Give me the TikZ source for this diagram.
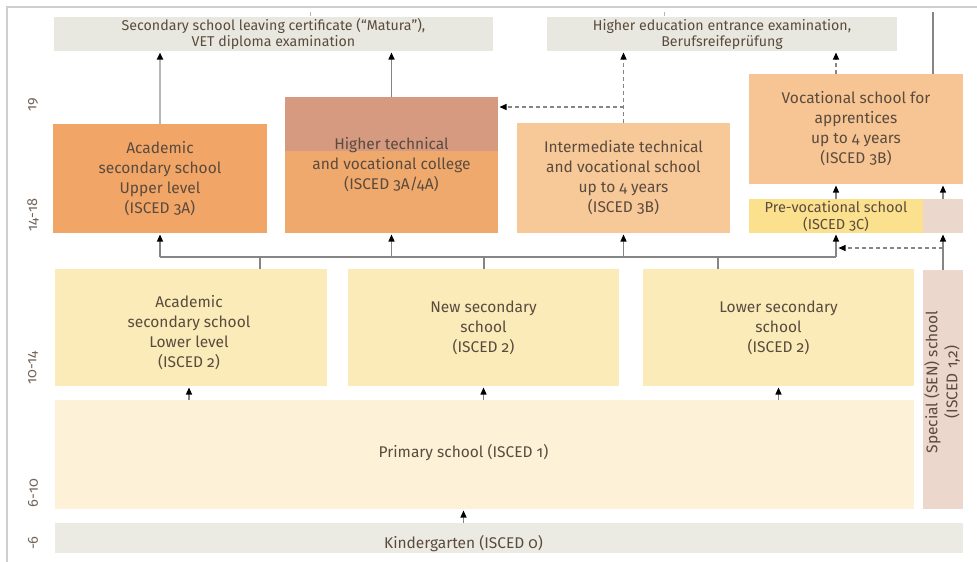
\documentclass[tikz,border=0pt]{standalone}
\usepackage{fontspec}
\setmainfont{Fira Sans}[Numbers=OldStyle]
\usetikzlibrary{arrows.meta}
\definecolor{txt}{HTML}{5A4B3E}
\definecolor{topc}{HTML}{E9E8E0}
\definecolor{acadc}{HTML}{F1A567}
\definecolor{htlow}{HTML}{F0A96C}
\definecolor{htup}{HTML}{D59A7F}
\definecolor{interc}{HTML}{F7C898}
\definecolor{vocc}{HTML}{F7C593}
\definecolor{prevc}{HTML}{FBE08E}
\definecolor{specc}{HTML}{EBD7CC}
\definecolor{lowc}{HTML}{FBEBB9}
\definecolor{primc}{HTML}{FDF2D7}
\definecolor{kindc}{HTML}{ECEBE3}
\definecolor{linec}{HTML}{858585}
\definecolor{framec}{HTML}{CFCFCF}
\begin{document}
\begin{tikzpicture}[x=1pt,y=-1pt,
  box/.style={inner sep=0pt, outer sep=0pt, align=center, text=txt, font=\fontsize{15.5}{20}\selectfont},
  topbox/.style={box, fill=topc, font=\fontsize{14.2}{16}\selectfont},
  age/.style={rotate=90, text=txt!85, font=\fontsize{14.5}{16}\selectfont, inner sep=0pt},
  conn/.style={draw=linec, line width=1.2pt},
  arr/.style={conn, shorten >=1.5pt, -{Triangle[length=7pt,width=6pt,black]}},
  darr/.style={arr, dashed, dash pattern=on 4pt off 3pt},
]
\useasboundingbox (0,0) rectangle (977,562);
% frame
\draw[framec, line width=1.5pt] (7,562) -- (7,7) -- (977,7);

% top boxes
\node[topbox, minimum width=439pt, minimum height=34pt] (top1) at (273.5,34)
  {Secondary school leaving certificate (“Matura”),\\VET diploma examination};
\node[topbox, minimum width=350pt, minimum height=34pt] (top2) at (722,34)
  {Higher education entrance examination,\\Berufsreifeprüfung};

% upper secondary
\node[box, fill=acadc, minimum width=214pt, minimum height=109pt] (acadup) at (160,178.5)
  {Academic\\secondary school\\Upper level\\(ISCED 3A)};
\node[box, fill=htlow, minimum width=213pt, minimum height=136pt,
  path picture={\fill[htup] (path picture bounding box.north west) rectangle ([yshift=-54pt]path picture bounding box.north east);}]
  (ht) at (391.5,165) {Higher technical\\and vocational college\\(ISCED 3A/4A)};
\node[box, fill=interc, minimum width=213pt, minimum height=110pt] (inter) at (623.5,178)
  {Intermediate technical\\and vocational school\\up to 4 years\\(ISCED 3B)};
\node[box, fill=vocc, minimum width=214pt, minimum height=110pt] (voc) at (856,129)
  {Vocational school for\\apprentices\\up to 4 years\\(ISCED 3B)};
\node[box, fill=prevc, minimum width=174pt, minimum height=34pt, font=\fontsize{14.5}{17}\selectfont] (prevoc) at (836,216)
  {Pre-vocational school\\(ISCED 3C)};
\node[box, fill=specc, minimum width=40pt, minimum height=34pt] (specup) at (943,216) {};

% lower secondary
\node[box, fill=lowc, minimum width=272pt, minimum height=117pt] (acadlow) at (191,327.5) {};
\node[box] (acadlowt) at (189,333) {Academic\\secondary school\\Lower level\\(ISCED 2)};
\node[box, fill=lowc, minimum width=271pt, minimum height=117pt] (newsec) at (483.5,327.5)
  {New secondary\\school\\(ISCED 2)};
\node[box, fill=lowc, minimum width=271pt, minimum height=117pt] (lowsec) at (778.5,327.5)
  {Lower secondary\\school\\(ISCED 2)};
\node[box, fill=specc, minimum width=40pt, minimum height=239pt] (spec) at (943,389.5) {};
\node[box, rotate=90] (spect) at (942,382) {Special (SEN) school\\(ISCED 1,2)};

% primary, kindergarten
\node[box, fill=primc, minimum width=859pt, minimum height=109pt] (prim) at (484.5,454.5) {};
\node[box] (primt) at (463.5,453) {Primary school (ISCED 1)};
\node[box, fill=kindc, minimum width=908pt, minimum height=30pt] (kind) at (509,538) {};
\node[box] (kindt) at (463.5,544) {Kindergarten (ISCED 0)};

% age labels
\node[age] (a19) at (33,105) {19};
\node[age] (a1418) at (33,215) {14-18};
\node[age] (a1014) at (33,368) {10-14};
\node[age] (a610) at (33,493) {6-10};
\node[age] (a6) at (33,543) {-6};

% top connectors
\draw[arr, draw=linec!60, line width=2pt] (acadup.north) -- (acadup.north |- top1.south);
\draw[arr, line width=1.5pt] (ht.north) -- (ht.north |- top1.south);
\draw[darr] (inter.north) -- (inter.north |- top2.south);
\coordinate (br) at (623.5,107);
\draw[darr] (br) -- (br -| ht.east);
\draw[darr] (prevoc.north |- voc.north) -- (prevoc.north |- top2.south);
\coordinate (trc) at (933,12);
\draw[conn] (trc) -- (trc |- voc.north);
\coordinate (tk1) at (310,12);
\coordinate (tk2) at (664,12);
\draw[conn, draw=linec!60, line width=1pt] (tk1) -- ++(0,4);
\draw[conn, draw=linec!60, line width=1pt] (tk2) -- ++(0,4);

% prevoc -> voc
\draw[arr] (prevoc.north) -- (prevoc.north |- voc.south);
\draw[arr] (specup.north) -- (specup.north |- voc.south);

% tree
\coordinate (hl) at (0,257);
\draw[conn] (acadup.south |- hl) -- (prevoc.south |- hl);
\draw[arr] (acadup.south |- hl) -- (acadup.south);
\draw[arr] (ht.south |- hl) -- (ht.south);
\draw[arr] (inter.south |- hl) -- (inter.south);
\draw[arr] (prevoc.south |- hl) -- (prevoc.south);
\coordinate (t1) at (260,269);
\coordinate (t2) at (484,269);
\coordinate (t3) at (718,269);
\draw[conn] (t1) -- (t1 |- hl);
\draw[conn] (t2) -- (t2 |- hl);
\draw[conn] (t3) -- (t3 |- hl);
\draw[arr] (spec.north) -- (specup.south);
\coordinate (sd) at (943,248);
\draw[darr] (sd) -- ([xshift=1pt]sd -| prevoc.south);

% primary -> lower
\draw[arr] (acadlowt.south |- prim.north) -- (acadlowt.south |- acadlow.south);
\draw[arr] (newsec.south |- prim.north) -- (newsec.south);
\draw[arr] (lowsec.south |- prim.north) -- (lowsec.south);
\draw[arr] (kindt.north |- kind.north) -- (kindt.north |- prim.south);
\end{tikzpicture}
\end{document}
